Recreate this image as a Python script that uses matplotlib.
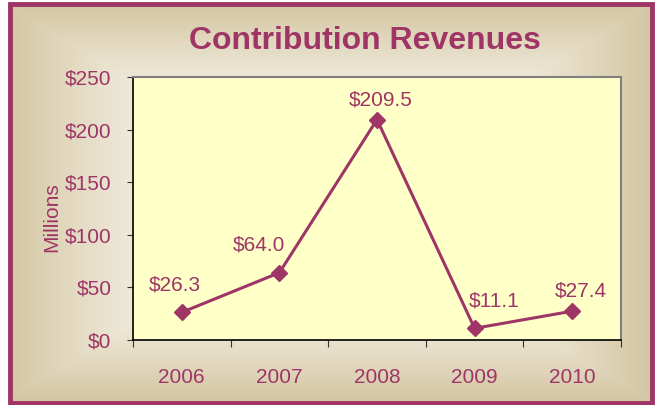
import numpy as np
import matplotlib
matplotlib.use("Agg")
import matplotlib.pyplot as plt
from matplotlib.patches import Rectangle

years = ["2006", "2007", "2008", "2009", "2010"]
values = [26.3, 64.0, 209.5, 11.1, 27.4]
labels = ["$26.3", "$64.0", "$209.5", "$11.1", "$27.4"]
label_offsets = [(-4.7, 20), (-15, 20), (3, 14), (14, 20), (6.5, 14.5)]
yticks = [0, 50, 100, 150, 200, 250]
ytick_labels = ["$0", "$50", "$100", "$150", "$200", "$250"]

C = "#9e3566"
plt.rcParams['font.family'] = ['Liberation Sans', 'DejaVu Sans']

W, H = 656, 405
fig = plt.figure(figsize=(W / 100, H / 100), dpi=100)

# background gradient
bg = fig.add_axes([0, 0, 1, 1])
bg.set_axis_off()
xs = np.linspace(-1, 1, 400)
ys = np.linspace(-1, 1, 250)
X, Y = np.meshgrid(xs, ys)
d = np.clip(np.maximum(np.abs(X), np.abs(Y)), 0, 1)
t = np.clip((d - 0.55) / 0.45, 0, 1) ** 1.2
c_in = np.array([0xf0, 0xeb, 0xdc]) / 255
c_out = np.array([0xd2, 0xc4, 0x9f]) / 255
img = c_in[None, None, :] * (1 - t[..., None]) + c_out[None, None, :] * t[..., None]
bg.imshow(img, extent=[0, 1, 0, 1], aspect='auto', origin='lower')
bg.set_xlim(0, 1)
bg.set_ylim(0, 1)
fx0, fx1 = 10 / W, 652 / W
fy0, fy1 = 1 - 403 / H, 1 - 4 / H
for r in [(0, 0, fx0, 1), (fx1, 0, 1 - fx1, 1), (0, 0, 1, fy0), (0, fy1, 1, 1 - fy1)]:
    bg.add_patch(Rectangle((r[0], r[1]), r[2], r[3], facecolor='white', edgecolor='none', zorder=2))
bg.add_patch(Rectangle((fx0, fy0), fx1 - fx0, fy1 - fy0, facecolor='none', edgecolor=C, linewidth=3.5, zorder=3))

# plot axes
L, R, T, B = 133, 621, 77, 340
ax = fig.add_axes([L / W, 1 - B / H, (R - L) / W, (B - T) / H])
ax.set_facecolor("#ffffc8")
x = np.arange(len(years))
ax.plot(x, values, color=C, linewidth=2.2, marker='D', markersize=8, zorder=3, clip_on=False)
for xi, v, lab, off in zip(x, values, labels, label_offsets):
    ax.annotate(lab, (xi, v), xytext=off, textcoords='offset points', ha='center', va='center',
                color=C, fontsize=15)
ax.set_xlim(-0.5, len(years) - 0.5)
ax.set_ylim(0, 250)
ax.set_yticks(yticks)
ax.set_yticklabels(ytick_labels, color=C, fontsize=15)
ax.set_xticks(np.arange(-0.5, len(years), 1.0))
ax.set_xticklabels([])
ax.set_xticks(x, minor=True)
ax.set_xticklabels(years, minor=True, color=C, fontsize=15)
ax.tick_params(axis='x', which='minor', length=0, pad=20)
ax.tick_params(axis='x', which='major', length=5, direction='out', color='#333333')
ax.tick_params(axis='y', length=4.5, direction='out', color='#333333', pad=11)
for s in ['left', 'bottom']:
    ax.spines[s].set_color('black')
    ax.spines[s].set_linewidth(1.2)
for s in ['top', 'right']:
    ax.spines[s].set_color('#808080')
    ax.spines[s].set_linewidth(1.5)
ax.set_ylabel("Millions", color=C, fontsize=15)
ax.yaxis.set_label_coords((61 - L) / (R - L), (B - 217) / (B - T))

fig.text(365 / W, 1 - 41 / H, "Contribution Revenues", ha='center', va='center',
         color=C, fontsize=23, fontweight='bold')

fig.savefig("out.png", dpi=100)
